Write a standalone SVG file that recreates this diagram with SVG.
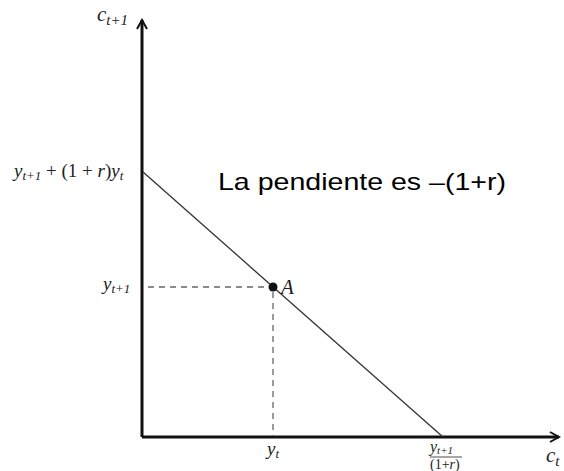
<svg xmlns="http://www.w3.org/2000/svg" width="564" height="471" viewBox="0 0 564 471">
<style>
.m{font-family:"Liberation Serif","DejaVu Serif",serif;font-style:italic;fill:#222;}
.t{font-family:"Liberation Sans","Open Sans",sans-serif;fill:#000;}
.ax{stroke:#111;stroke-width:3;fill:none;}
.dash{stroke:#666;stroke-width:1.3;stroke-dasharray:6,5;fill:none;}
</style>
<defs>
<marker id="ar" viewBox="0 0 12 12" refX="10" refY="6" markerWidth="12" markerHeight="12" markerUnits="userSpaceOnUse" orient="auto">
<path d="M1,1 L10,6 L1,11" fill="none" stroke="#111" stroke-width="2"/>
</marker>
</defs>
<rect width="564" height="471" fill="#fff"/>
<g id="connectors">
<path class="ax" d="M142,437 L142,20" marker-end="url(#ar)"/>
<path class="ax" d="M142,437 L559,437" marker-end="url(#ar)"/>
<line x1="143" y1="172" x2="443" y2="437" stroke="#333" stroke-width="1.3"/>
<line class="dash" x1="148" y1="287" x2="270" y2="287"/>
<line class="dash" x1="273" y1="292" x2="273" y2="436"/>
</g>
<g id="pointA">
<circle cx="273" cy="287" r="4.5" fill="#111"/>
<text class="m" x="281" y="294" font-size="21">A</text>
</g>
<g id="labels">
<text class="m" x="97" y="21" font-size="21">c<tspan font-size="15" dy="4">t+1</tspan></text>
<text class="m" x="14" y="177" font-size="19">y<tspan font-size="13" dy="3">t+1</tspan><tspan dy="-3" font-style="normal"> + (1 + </tspan>r<tspan font-style="normal">)</tspan>y<tspan font-size="13" dy="3">t</tspan></text>
<text class="m" x="103" y="290" font-size="19">y<tspan font-size="13" dy="3">t+1</tspan></text>
<text class="m" x="267" y="455" font-size="19">y<tspan font-size="13" dy="3">t</tspan></text>
<text class="m" x="430" y="452" font-size="16">y<tspan font-size="11" dy="2">t+1</tspan></text>
<line x1="430" y1="457" x2="462" y2="457" stroke="#222" stroke-width="0.8"/>
<text class="m" x="430" y="469" font-size="14"><tspan font-style="normal">(1+</tspan>r<tspan font-style="normal">)</tspan></text>
<text class="m" x="546" y="462" font-size="21">c<tspan font-size="15" dy="4">t</tspan></text>
<text class="t" x="218" y="190" font-size="24" textLength="288" lengthAdjust="spacingAndGlyphs">La pendiente es –(1+r)</text>
</g>
</svg>
